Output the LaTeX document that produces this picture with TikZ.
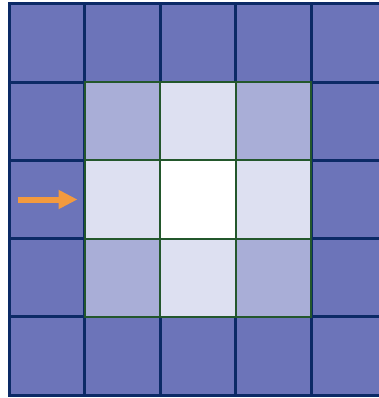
\documentclass[tikz,border=0pt]{standalone}
\usepackage{xcolor}
\usetikzlibrary{arrows.meta,positioning}
\definecolor{navyline}{HTML}{0C2A66}
\definecolor{greenline}{HTML}{23572C}
\definecolor{outerfill}{HTML}{6C74B9}
\definecolor{cornerfill}{HTML}{A9AED7}
\definecolor{sidefill}{HTML}{DDE0F1}
\definecolor{arroworange}{HTML}{F39A3E}
\tikzset{
  cell/.style      = {draw=navyline, line width=3pt, fill=outerfill,
                      minimum width=75.5pt, minimum height=78.2pt,
                      inner sep=0pt, outer sep=0pt},
  incell/.style    = {draw=greenline, line width=2pt,
                      minimum width=75.5pt, minimum height=78.2pt,
                      inner sep=0pt, outer sep=0pt},
  flowarrow/.style = {-{Triangle[length=19pt,width=18pt]}, line width=6pt,
                      arroworange},
}

\begin{document}
\begin{tikzpicture}[x=1pt,y=-1pt]
  \useasboundingbox (0,0) rectangle (378,398);
  % outer 5x5 grid
  \foreach \i in {0,...,4}
    \foreach \j in {0,...,4}
      \node[cell] (c-\i-\j) at ({9+75.5*(\i+0.5)}, {4+78.2*(\j+0.5)}) {};
  % inner 3x3 block
  \foreach \i/\j/\col in {1/1/cornerfill, 3/1/cornerfill, 1/3/cornerfill, 3/3/cornerfill,
                          2/1/sidefill, 1/2/sidefill, 3/2/sidefill, 2/3/sidefill, 2/2/white}
    \node[incell, fill=\col] (k-\i-\j) at (c-\i-\j) {};
  % arrow into the middle row
  \coordinate (start) at ([xshift=-67pt]k-1-2.west);
  \draw[flowarrow] (start) -- ([xshift=-7pt]k-1-2.west);
\end{tikzpicture}
\end{document}
